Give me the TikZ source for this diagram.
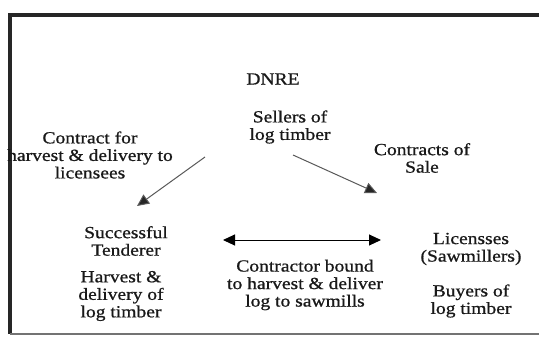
\documentclass[tikz,border=0pt]{standalone}
\usepackage{fontspec}
\setmainfont[FakeStretch=1.15,FakeBold=0.8]{Liberation Serif}
\usetikzlibrary{arrows.meta}
\begin{document}
\begin{tikzpicture}[x=1pt,y=-1pt,
  lbl/.style={font=\fontsize{17}{17.5}\selectfont, align=center, inner sep=0pt, text=black!90},
  diag/.style={draw=black!65, line width=1pt, -{Triangle[length=12pt,width=11pt,fill=black!85]}},
  dbl/.style={draw=black, line width=1pt, {Triangle[length=12pt,width=11pt]}-{Triangle[length=12pt,width=11pt]}}]
\useasboundingbox (0,0) rectangle (539,338);
\fill[white] (0,0) rectangle (539,338);
% frame
\draw[black!85, line width=3.2pt] (539,15) -- (10,15) -- (10,334);
\draw[black!55, line width=1.6pt] (10,334) -- (539,334);
% texts
\node[lbl] (dnre) at (273,79) {DNRE};
\node[lbl] (sellers) at (290,127) {Sellers of\\log timber};
\node[lbl] (contract) at (90,155) {Contract for\\harvest \& delivery to\\licensees};
\node[lbl] (sale) at (422,158) {Contracts of\\Sale};
\node[lbl] (tenderer) at (126,241) {Successful\\Tenderer};
\node[lbl] (harvest) at (121,296) {Harvest \&\\delivery of\\log timber};
\node[lbl] (bound) at (305,285) {Contractor bound\\to harvest \& deliver\\log to sawmills};
\node[lbl] (lic) at (471,249) {Licensses\\(Sawmillers)};
\node[lbl] (buyers) at (471,301) {Buyers of\\log timber};
% connectors
\coordinate (a1s) at (205,157);
\coordinate (a1e) at (137,206);
\coordinate (a2s) at (293,155);
\coordinate (a2e) at (377,193);
\coordinate (bl) at (223,240);
\coordinate (br) at (381,240);
\draw[diag] (a1s) -- (a1e);
\draw[diag] (a2s) -- (a2e);
\draw[dbl] (bl) -- (br);
\end{tikzpicture}
\end{document}
